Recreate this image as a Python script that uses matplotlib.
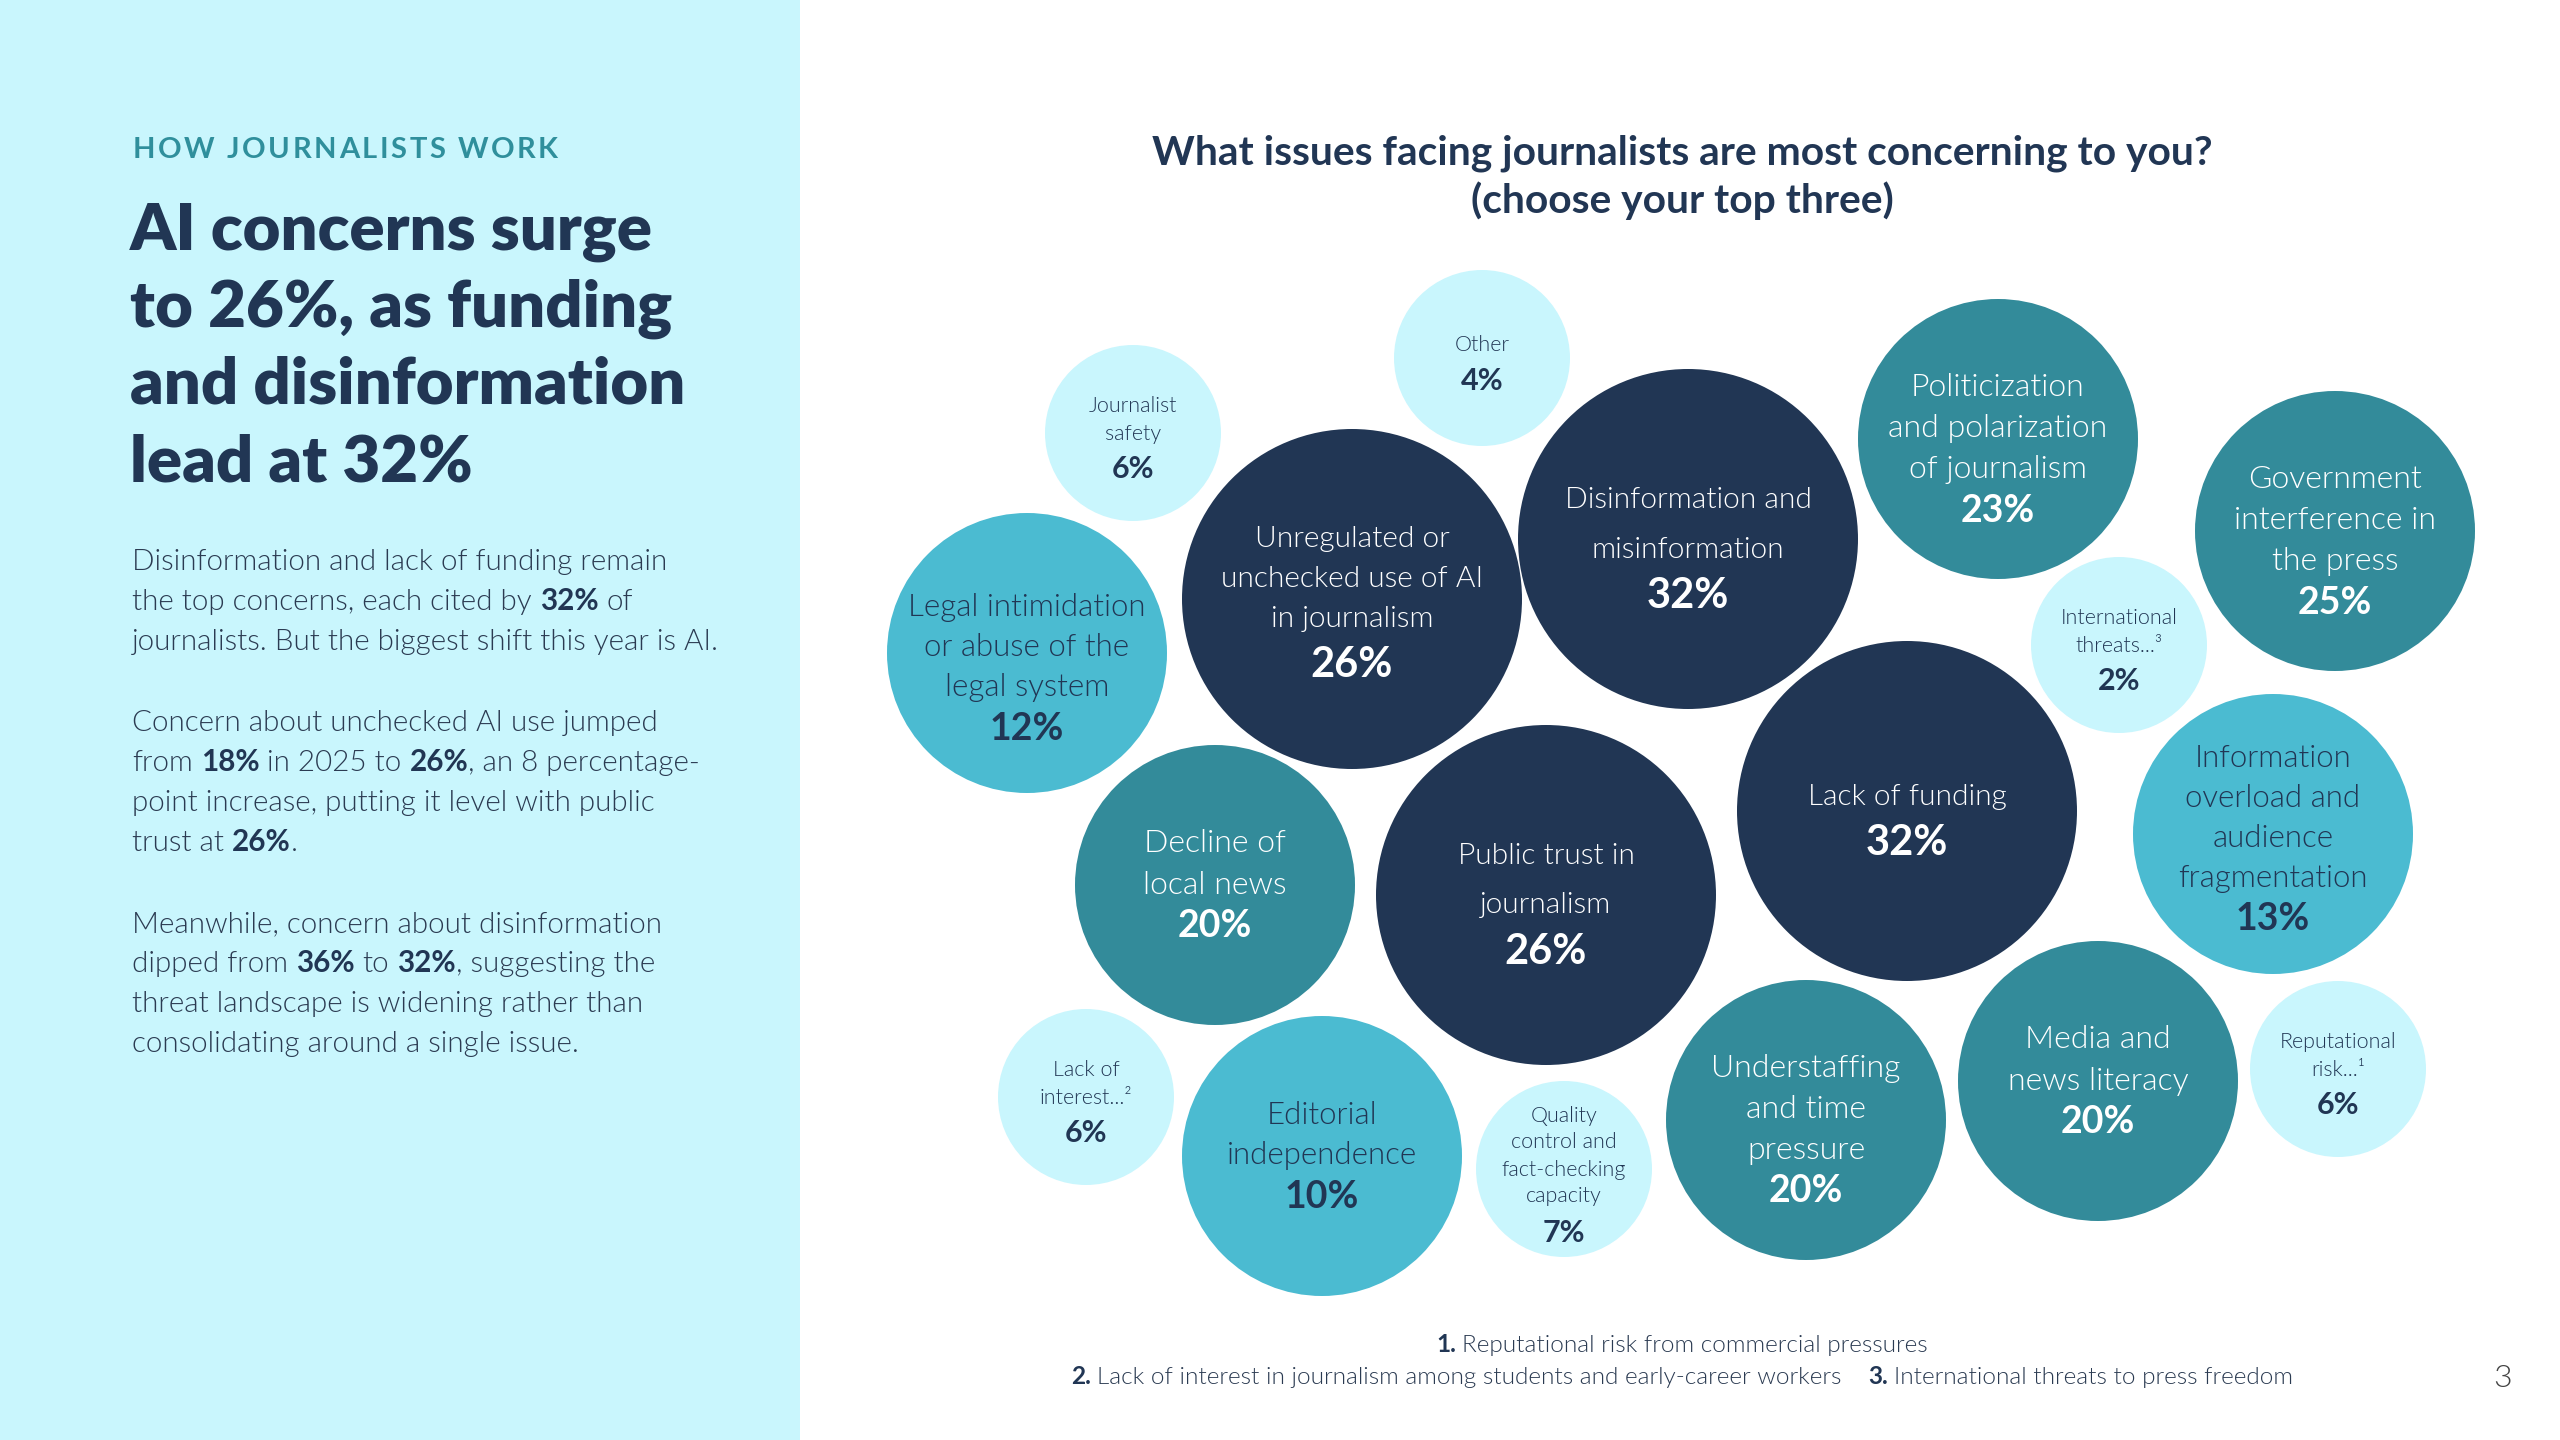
import matplotlib
matplotlib.use("Agg")
import matplotlib.pyplot as plt
from matplotlib.patches import Circle, Rectangle

# ---------------- data ----------------
kicker = "HOW JOURNALISTS WORK"
headline = ["AI concerns surge", "to 26%, as funding", "and disinformation", "lead at 32%"]
body = [
    [[("Disinformation and lack of funding remain", False)],
     [("the top concerns, each cited by ", False), ("32%", True), (" of", False)],
     [("journalists. But the biggest shift this year is AI.", False)]],
    [[("Concern about unchecked AI use jumped", False)],
     [("from ", False), ("18%", True), (" in 2025 to ", False), ("26%", True), (", an 8 percentage-", False)],
     [("point increase, putting it level with public", False)],
     [("trust at ", False), ("26%", True), (".", False)]],
    [[("Meanwhile, concern about disinformation", False)],
     [("dipped from ", False), ("36%", True), (" to ", False), ("32%", True), (", suggesting the", False)],
     [("threat landscape is widening rather than", False)],
     [("consolidating around a single issue.", False)]],
]
chart_title = ["What issues facing journalists are most concerning to you?", "(choose your top three)"]

issues = [
    "Journalist\nsafety", "Other", "Legal intimidation\nor abuse of the\nlegal system",
    "Unregulated or\nunchecked use of AI\nin journalism", "Disinformation and\nmisinformation",
    "Politicization\nand polarization\nof journalism", "Government\ninterference in\nthe press",
    "International\nthreats...³", "Information\noverload and\naudience\nfragmentation",
    "Lack of funding", "Public trust in\njournalism", "Decline of\nlocal news",
    "Lack of\ninterest...²", "Editorial\nindependence",
    "Quality\ncontrol and\nfact-checking\ncapacity", "Understaffing\nand time\npressure",
    "Media and\nnews literacy", "Reputational\nrisk...¹",
]
shares = [6, 4, 12, 26, 32, 23, 25, 2, 13, 32, 26, 20, 6, 10, 7, 20, 20, 6]

footnote1 = [("1.", True), (" Reputational risk from commercial pressures", False)]
footnote2 = [("2.", True), (" Lack of interest in journalism among students and early-career workers", False),
             ("    3.", True), (" International threats to press freedom", False)]
page_no = "3"

# ---------------- layout (packed bubble positions, px) ----------------
bx = [1133, 1482, 1027, 1352, 1688, 1998, 2335, 2119, 2273, 1907, 1546, 1215, 1086, 1322, 1564, 1806, 2098, 2338]
by = [433, 358, 653, 599, 539, 439, 531, 645, 834, 811, 895, 885, 1097, 1156, 1169, 1120, 1081, 1069]
big_gap = {4: 49, 10: 49}

NAVY = "#213654"
TEAL = "#338B9A"
CYAN = "#4BBBD1"
LIGHT = "#C9F6FD"
KICK = "#2F8F9C"
BODY = "#2B3B52"
LIGHTW = 300

def tier(v):
    # radius, face, text colour, label size, pct size, line gap, pct gap
    if v >= 26:
        return 170, NAVY, "white", 21.5, 30, 40, 46
    if v >= 20:
        return 140, TEAL, "white", 23, 27, 41, 41
    if v >= 10:
        return 140, CYAN, NAVY, 22.5, 27, 40, 41
    return 88, LIGHT, NAVY, 15.5, 22, 27, 36

FAM = ["Lato", "DejaVu Sans"]

fig = plt.figure(figsize=(25.6, 14.4), dpi=100)
fig.patch.set_facecolor("white")
ax = fig.add_axes([0, 0, 1, 1])
ax.set_xlim(0, 2560)
ax.set_ylim(1440, 0)
ax.axis("off")
renderer = fig.canvas.get_renderer()

ax.add_patch(Rectangle((0, 0), 800, 1440, facecolor=LIGHT, edgecolor="none", zorder=0))

def width_of(s, size, weight):
    t = ax.text(0, 0, s, fontsize=size, fontweight=weight, family=FAM)
    w = t.get_window_extent(renderer).width
    t.remove()
    return w

def rich_line(x, y, segs, size, color, bcolor, ha="left", light=LIGHTW):
    sp = width_of("a a", size, light) - width_of("aa", size, light)
    parts = []
    total = 0
    for s, b in segs:
        w8 = "bold" if b else light
        lead = len(s) - len(s.lstrip(" "))
        trail = len(s) - len(s.rstrip(" "))
        core = s.strip(" ")
        w = width_of(core, size, w8) if core else 0
        parts.append((lead * sp, core, w8, b, w, trail * sp))
        total += lead * sp + w + trail * sp
    cx = x - total / 2 if ha == "center" else x
    for lead, core, w8, b, w, trail in parts:
        cx += lead
        if core:
            ax.text(cx, y, core, fontsize=size, fontweight=w8, family=FAM,
                    color=bcolor if b else color, va="baseline", ha="left")
        cx += w + trail

def tracked(x, y, s, size, weight, color, target):
    ws = [width_of(c, size, weight) if c != " " else 0 for c in s]
    sp = width_of("a a", size, weight) - width_of("aa", size, weight)
    ws = [w if c != " " else sp for c, w in zip(s, ws)]
    extra = (target - sum(ws)) / (len(s) - 1)
    cx = x
    for c, w in zip(s, ws):
        if c != " ":
            ax.text(cx, y, c, fontsize=size, fontweight=weight, family=FAM, color=color, va="baseline")
        cx += w + extra

# left panel
tracked(133, 158, kicker, 21, "bold", KICK, 425)
for i, line in enumerate(headline):
    ax.text(130, 250 + i * 77, line, fontsize=47, fontweight=800, family=FAM, color=NAVY, va="baseline")
para_y = [570, 731, 932]
for p, lines in enumerate(body):
    for j, segs in enumerate(lines):
        rich_line(132, para_y[p] + j * 40, segs, 21.3, BODY, NAVY)

# chart title
for i, line in enumerate(chart_title):
    ax.text(1682, 164 + i * 49, line, fontsize=29.3, fontweight="bold", family=FAM, color=NAVY,
            ha="center", va="baseline")

# bubbles
for i, (lab, v) in enumerate(zip(issues, shares)):
    r, fc, tc, fs, pfs, gap, pgap = tier(v)
    gap = big_gap.get(i, gap)
    ax.add_patch(Circle((bx[i], by[i]), r, facecolor=fc, edgecolor="none", zorder=1))
    lines = lab.split("\n")
    n = len(lines)
    total = (n - 1) * gap + pgap
    if r == 170:
        off = 9 if n < 3 else 3
    elif r == 140:
        off = (15 if fc == CYAN else 10) if n == 3 else (5 if n == 4 else 0)
    else:
        off = 5
    y0 = by[i] - total / 2 + off
    for j, ln in enumerate(lines):
        ax.text(bx[i], y0 + j * gap, ln, fontsize=fs, fontweight=LIGHTW, family=FAM, color=tc,
                ha="center", va="center", zorder=2)
    ax.text(bx[i], y0 + (n - 1) * gap + pgap, f"{v}%", fontsize=pfs, fontweight="bold", family=FAM,
            color=tc, ha="center", va="center", zorder=2)

# footnotes
rich_line(1682, 1352, footnote1, 17.6, BODY, NAVY, ha="center")
rich_line(1682, 1384, footnote2, 17.6, BODY, NAVY, ha="center")
ax.text(2503, 1387, page_no, fontsize=23, fontweight=LIGHTW, family=FAM, color="#444444",
        ha="center", va="baseline")

fig.savefig("out.png", dpi=100, facecolor="white")
